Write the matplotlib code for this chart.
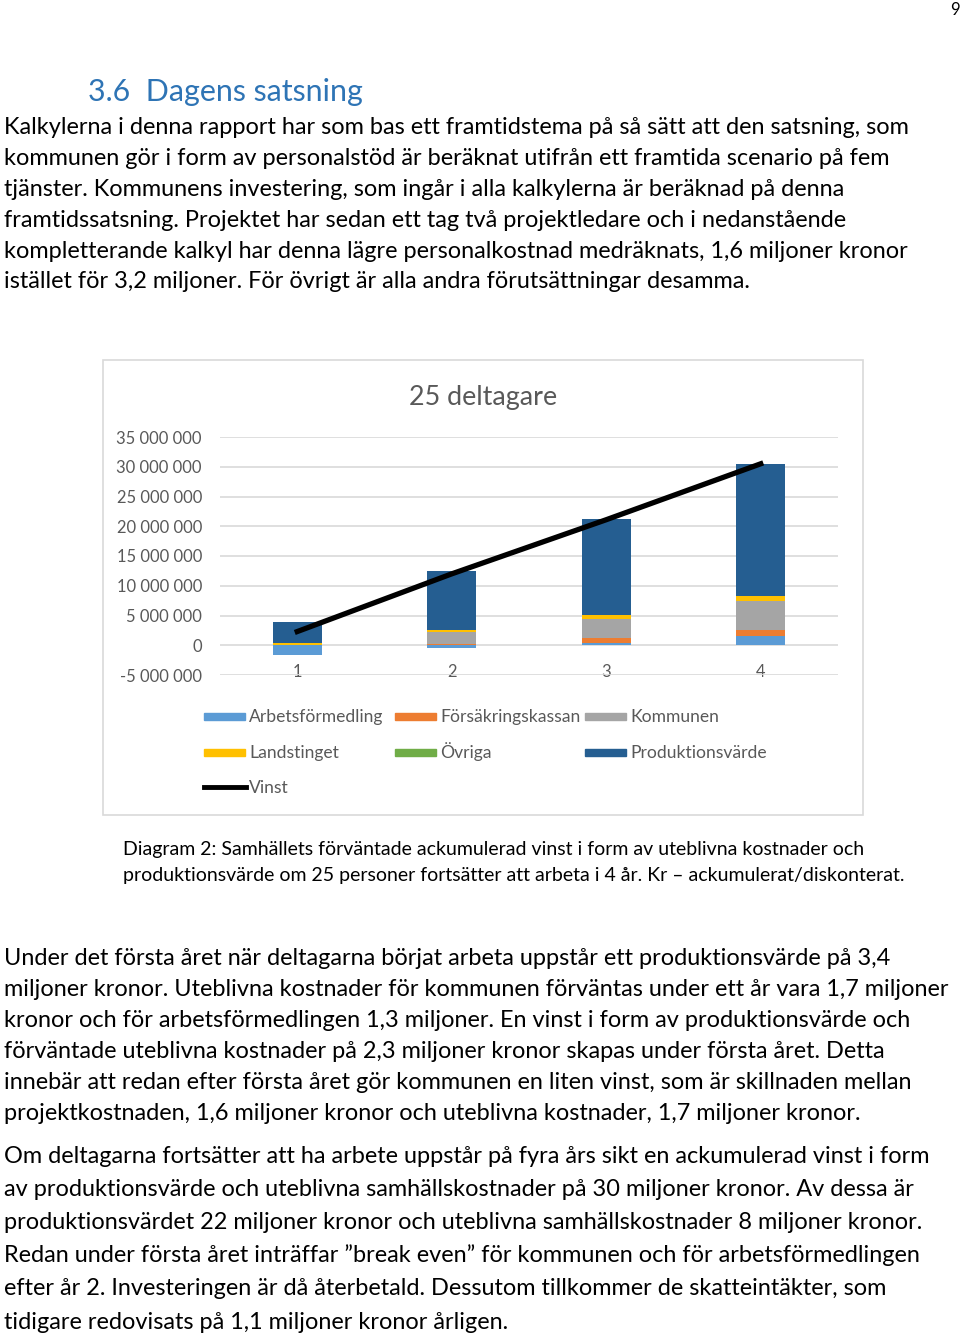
import matplotlib
matplotlib.use("Agg")
import matplotlib.pyplot as plt
from matplotlib.patches import Rectangle
from matplotlib.lines import Line2D
import numpy as np

# --- chart data (kronor, accumulated per year) ---
years = ["1", "2", "3", "4"]
arbetsformedling = [-1600000, -500000, 400000, 1600000]
forsakringskassan = [0, 250000, 750000, 1000000]
kommunen = [100000, 1900000, 3250000, 4800000]
landstinget = [350000, 450000, 750000, 850000]
ovriga = [0, 0, 0, 0]
produktionsvarde = [3400000, 9800000, 16100000, 22200000]
vinst = [2300000, 12000000, 21100000, 30500000]

series_names = ["Arbetsförmedling", "Försäkringskassan", "Kommunen",
                "Landstinget", "Övriga", "Produktionsvärde"]
series_values = [arbetsformedling, forsakringskassan, kommunen,
                 landstinget, ovriga, produktionsvarde]
series_colors = ["#5B9BD5", "#ED7D31", "#A5A5A5", "#FFC000", "#70AD47", "#255E91"]

# --- page text ---
heading = "3.6  Dagens satsning"
para1 = [
    "Kalkylerna i denna rapport har som bas ett framtidstema på så sätt att den satsning, som",
    "kommunen gör i form av personalstöd är beräknat utifrån ett framtida scenario på fem",
    "tjänster. Kommunens investering, som ingår i alla kalkylerna är beräknad på denna",
    "framtidssatsning. Projektet har sedan ett tag två projektledare och i nedanstående",
    "kompletterande kalkyl har denna lägre personalkostnad medräknats, 1,6 miljoner kronor",
    "istället för 3,2 miljoner. För övrigt är alla andra förutsättningar desamma.",
]
caption = [
    "Diagram 2: Samhällets förväntade ackumulerad vinst i form av uteblivna kostnader och",
    "produktionsvärde om 25 personer fortsätter att arbeta i 4 år. Kr – ackumulerat/diskonterat.",
]
para2 = [
    "Under det första året när deltagarna börjat arbeta uppstår ett produktionsvärde på 3,4",
    "miljoner kronor. Uteblivna kostnader för kommunen förväntas under ett år vara 1,7 miljoner",
    "kronor och för arbetsförmedlingen 1,3 miljoner. En vinst i form av produktionsvärde och",
    "förväntade uteblivna kostnader på 2,3 miljoner kronor skapas under första året. Detta",
    "innebär att redan efter första året gör kommunen en liten vinst, som är skillnaden mellan",
    "projektkostnaden, 1,6 miljoner kronor och uteblivna kostnader, 1,7 miljoner kronor.",
]
para3 = [
    "Om deltagarna fortsätter att ha arbete uppstår på fyra års sikt en ackumulerad vinst i form",
    "av produktionsvärde och uteblivna samhällskostnader på 30 miljoner kronor. Av dessa är",
    "produktionsvärdet 22 miljoner kronor och uteblivna samhällskostnader 8 miljoner kronor.",
    "Redan under första året inträffar ”break even” för kommunen och för arbetsförmedlingen",
    "efter år 2. Investeringen är då återbetald. Dessutom tillkommer de skatteintäkter, som",
    "tidigare redovisats på 1,1 miljoner kronor årligen.",
]

W, H = 960, 1337
FONT = "Lato"
GREY = "#595959"

fig = plt.figure(figsize=(9.6, 13.37), dpi=100)
renderer = fig.canvas.get_renderer()


def px(x, y):
    return x / W, 1 - y / H


def fit(text, width):
    # font size that makes text span the given pixel width
    t = fig.text(0, 0, text, fontsize=20, family=FONT)
    w = t.get_window_extent(renderer).width
    t.remove()
    return 20 * width / w


def block(lines, x, baselines, size, color="black"):
    for s, yb in zip(lines, baselines):
        fig.text(*px(x, yb), s, fontsize=size, family=FONT, color=color,
                 va="baseline", ha="left")


# page number + heading
fig.text(*px(955, 15), "9", fontsize=12, family=FONT, ha="center", va="baseline")
fig.text(*px(88, 101), heading, fontsize=fit(heading, 275), family=FONT,
         color="#2E74B5", va="baseline")

block(para1, 4, [134, 165, 196, 227, 258, 288], fit(para1[0], 911))
block(para2, 4, [965, 996, 1027, 1058, 1089, 1120], fit(para2[0], 891))
block(para3, 4, [1163, 1196, 1229, 1262, 1295, 1329], fit(para3[0], 929))
block(caption, 123, [855, 881], fit(caption[0], 743))

# chart frame
fig.add_artist(Rectangle(px(103, 815), 760 / W, 455 / H, transform=fig.transFigure,
                         fill=False, edgecolor="#D9D9D9", lw=1.2))
fig.text(*px(483, 405), "25 deltagare", fontsize=fit("25 deltagare", 148),
         family=FONT, color=GREY, ha="center", va="baseline")

ax = fig.add_axes([220 / W, 1 - 675 / H, (838 - 220) / W, (675 - 437) / H])
x = np.arange(len(years))
pos_bottom = np.zeros(len(years))
neg_bottom = np.zeros(len(years))
for name, vals, color in zip(series_names, series_values, series_colors):
    vals = np.array(vals, dtype=float)
    bottom = np.where(vals >= 0, pos_bottom, neg_bottom)
    ax.bar(x, vals, width=0.317, bottom=bottom, color=color, label=name, zorder=2)
    pos_bottom += np.clip(vals, 0, None)
    neg_bottom += np.clip(vals, None, 0)
ax.plot(x, vinst, color="black", lw=3.8, zorder=3, label="Vinst")

ax.set_xlim(-0.5, 3.5)
ax.set_ylim(-5e6, 35e6)
yticks = np.arange(-5e6, 35e6 + 1, 5e6)
ax.set_yticks(yticks)
ax.set_yticklabels([f"{v:,.0f}".replace(",", " ") for v in yticks])
ax.yaxis.grid(True, color="#D9D9D9", lw=1.2, zorder=0)
ax.set_axisbelow(True)
for sp in ax.spines.values():
    sp.set_visible(False)
ax.spines["bottom"].set_position(("data", 0))
ax.set_xticks(x)
ax.set_xticklabels(years)
tick_size = fit("35 000 000", 85)
ax.tick_params(axis="y", length=0, pad=13, labelcolor=GREY, labelsize=tick_size)
ax.tick_params(axis="x", length=0, pad=13.5, labelcolor=GREY, labelsize=tick_size)
for lab in ax.get_xticklabels() + ax.get_yticklabels():
    lab.set_family(FONT)
ax.patch.set_alpha(0)

# legend laid out like the Excel one (3 per row)
leg_size = fit("Arbetsförmedling", 135)
col_x = [204, 395, 585]
row_y = [716, 752, 787]
entries = list(zip(series_names, series_colors)) + [("Vinst", None)]
for i, (name, color) in enumerate(entries):
    cx, cy = col_x[i % 3], row_y[i // 3]
    if color is None:
        fig.add_artist(Line2D([cx / W, (cx + 42) / W], [1 - cy / H] * 2,
                              color="black", lw=3.5, transform=fig.transFigure))
    else:
        fig.add_artist(Rectangle(px(cx, cy + 3.5), 41 / W, 7 / H,
                                 transform=fig.transFigure, color=color))
    fig.text(*px(cx + 45, cy + 6), name, fontsize=leg_size, family=FONT,
             color=GREY, va="baseline")

fig.savefig("out.png", dpi=100)
